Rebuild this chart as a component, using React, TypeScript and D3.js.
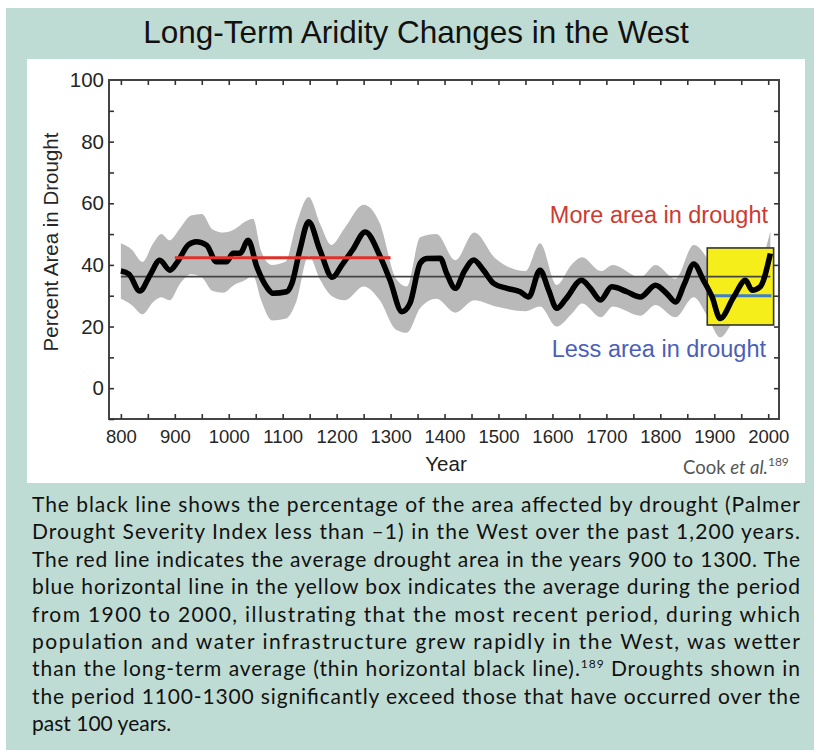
import React, { useEffect, useRef } from 'react';
import * as d3 from 'd3';

// black line: percent area in drought
const years = [800, 815, 835, 855, 872, 891, 905, 925, 940, 959, 977, 996, 1008, 1021, 1036, 1052, 1070, 1082, 1107, 1117, 1132, 1148, 1169, 1192, 1210, 1230, 1253, 1281, 1299, 1321, 1336, 1355, 1367, 1392, 1404, 1420, 1437, 1454, 1472, 1491, 1516, 1540, 1556, 1577, 1593, 1608, 1625, 1654, 1670, 1689, 1710, 1738, 1763, 1791, 1812, 1828, 1845, 1862, 1880, 1896, 1911, 1936, 1958, 1970, 1985, 2004];
const drought = [38, 37, 31.5, 37, 41.5, 38.3, 41, 46.5, 47.5, 46.4, 41, 41, 43.8, 43.8, 48, 39.4, 32.9, 30.8, 31.3, 34, 45, 54, 44.8, 36, 40, 45, 50.7, 42.6, 35, 24.8, 27.6, 40.6, 42.1, 42.2, 37.2, 32.4, 38, 41.6, 38.3, 34, 32.4, 31.3, 29.6, 38.3, 31.8, 25.9, 29, 35, 32.5, 28.6, 32.9, 31.3, 29.6, 33.4, 30.7, 28, 34, 40.3, 35, 29.6, 22.6, 29.6, 35, 31.8, 32.9, 43.7];

// grey uncertainty band
const bandYears = [800, 820, 840, 860, 875, 890, 910, 930, 950, 970, 990, 1010, 1030, 1045, 1060, 1080, 1105, 1125, 1148, 1170, 1190, 1215, 1250, 1280, 1310, 1330, 1355, 1385, 1420, 1455, 1495, 1550, 1577, 1608, 1635, 1655, 1690, 1712, 1763, 1791, 1828, 1862, 1887, 1911, 1936, 1960, 1985, 2004];
const bandUpper = [47, 45, 41, 47, 50, 48, 52, 56, 56.5, 51.5, 50.5, 51.5, 54, 55, 44.5, 40, 41, 53, 62, 53, 46.5, 52, 59.5, 53.5, 35.5, 33, 49, 50, 41.5, 50.5, 42, 38, 47, 33.5, 40, 42.5, 38, 40, 36, 40, 35.5, 46.5, 42, 32, 38, 42, 42, 51];
const bandLower = [29, 27, 24, 28, 29.5, 28.5, 34, 37, 36, 31.5, 31, 33.5, 35, 36.5, 28.5, 22, 22.5, 28, 43, 35, 30, 28.5, 33, 28.5, 19, 18, 26, 29, 24.5, 28.5, 26.5, 25, 26.5, 20, 24, 27.5, 23, 26.5, 23.5, 27, 23, 29.5, 23.5, 16.5, 22, 27, 26, 33];

const longTermMean = 36.2;
const longTermSpan = [800, 2004];
const medievalMean = 42.3;
const medievalSpan = [900, 1300];
const modernMean = 30;
const modernSpan = [1898, 2006];
const boxYears = [1887, 2010];
const boxValues = [20.5, 45.5];

const xTicks = [800, 900, 1000, 1100, 1200, 1300, 1400, 1500, 1600, 1700, 1800, 1900, 2000];
const xMinor = [850, 950, 1050, 1150, 1250, 1350, 1450, 1550, 1650, 1750, 1850, 1950];
const yTicks = [0, 20, 40, 60, 80, 100];
const yMinor = [-10, 10, 30, 50, 70, 90];

const captionLines = [
  'The black line shows the percentage of the area affected by drought (Palmer',
  'Drought Severity Index less than \u20131) in the West over the past 1,200 years.',
  'The red line indicates the average drought area in the years 900 to 1300. The',
  'blue horizontal line in the yellow box indicates the average during the period',
  'from 1900 to 2000, illustrating that the most recent period, during which',
  'population and water infrastructure grew rapidly in the West, was wetter',
  'than the long-term average (thin horizontal black line).|189| Droughts shown in',
  'the period 1100-1300 significantly exceed those that have occurred over the',
  'past 100 years.',
];

const W = 814;
const H = 750;
const plot = { left: 109, right: 779, top: 80, bottom: 419 };

export default function App() {
  const axisRef = useRef<SVGGElement>(null);

  const x = d3.scaleLinear().domain([778, 2020]).range([plot.left, plot.right]);
  const y = d3.scaleLinear().domain([-10, 100]).range([plot.bottom, plot.top]);

  const lineData = years.map((yr, i) => [yr, drought[i]] as [number, number]);
  const bandData = bandYears.map((yr, i) => ({ yr, hi: bandUpper[i], lo: bandLower[i] }));

  const line = d3
    .line<[number, number]>()
    .x(d => x(d[0]))
    .y(d => y(d[1]))
    .curve(d3.curveMonotoneX);

  const area = d3
    .area<{ yr: number; hi: number; lo: number }>()
    .x(d => x(d.yr))
    .y0(d => y(d.lo))
    .y1(d => y(d.hi))
    .curve(d3.curveMonotoneX);

  useEffect(() => {
    const g = d3.select(axisRef.current);
    g.selectAll('*').remove();
    const allX = [...xTicks, ...xMinor].sort((a, b) => a - b);
    const allY = [...yTicks, ...yMinor].sort((a, b) => a - b);

    const bottom = g
      .append('g')
      .attr('transform', `translate(0,${plot.bottom})`)
      .call(
        d3
          .axisBottom(x)
          .tickValues(allX)
          .tickSize(-5)
          .tickSizeOuter(0)
          .tickPadding(11)
          .tickFormat(d => (xTicks.includes(+d) ? String(d) : ''))
      );
    const top = g
      .append('g')
      .attr('transform', `translate(0,${plot.top})`)
      .call(d3.axisTop(x).tickValues(allX).tickSize(-5).tickSizeOuter(0).tickFormat(() => ''));
    const left = g
      .append('g')
      .attr('transform', `translate(${plot.left},0)`)
      .call(
        d3
          .axisLeft(y)
          .tickValues(allY.filter(v => v < 100))
          .tickSize(-5)
          .tickSizeOuter(0)
          .tickPadding(5)
          .tickFormat(d => (yTicks.includes(+d) ? String(d) : ''))
      );
    const right = g
      .append('g')
      .attr('transform', `translate(${plot.right},0)`)
      .call(d3.axisRight(y).tickValues(allY.filter(v => v < 100 && v > -10)).tickSize(-5).tickSizeOuter(0).tickFormat(() => ''));

    [bottom, top, left, right].forEach(a => {
      a.select('.domain').remove();
      a.selectAll('line').attr('stroke', '#333').attr('stroke-width', 1.6);
      a.selectAll('text')
        .attr('fill', '#262626')
        .style('font-family', '"Liberation Sans", Arial, sans-serif');
    });
    bottom.selectAll('text').style('font-size', '18.5px');
    left.selectAll('text').style('font-size', '20.5px');
    // "100" sits at the top corner, drawn separately
    g.append('text')
      .attr('x', plot.left - 5)
      .attr('y', y(100))
      .attr('dy', '0.32em')
      .attr('text-anchor', 'end')
      .attr('fill', '#262626')
      .style('font-family', '"Liberation Sans", Arial, sans-serif')
      .style('font-size', '20.5px')
      .text('100');
  }, []);

  const sans = '"Liberation Sans", Arial, sans-serif';
  const gill = 'Lato, "Open Sans", sans-serif';

  return (
    <svg width={W} height={H} style={{ position: 'absolute', left: 0, top: 0 }}>
      <rect x={6} y={8} width={808} height={742} fill="#bfdcd4" />
      <rect x={27} y={59} width={778} height={424} fill="#ffffff" />

      <text x={416} y={43} textAnchor="middle" fontFamily={sans} fontSize={31.5} fill="#111">
        Long-Term Aridity Changes in the West
      </text>

      <path d={area(bandData) ?? ''} fill="#b9b9b9" />
      <rect
        x={x(boxYears[0])}
        y={y(boxValues[1])}
        width={x(boxYears[1]) - x(boxYears[0])}
        height={y(boxValues[0]) - y(boxValues[1])}
        fill="#f6ee1b"
        stroke="#333"
        strokeWidth={1.6}
      />
      <line
        x1={x(longTermSpan[0])}
        x2={x(longTermSpan[1])}
        y1={y(longTermMean)}
        y2={y(longTermMean)}
        stroke="#444"
        strokeWidth={1.6}
      />
      <line
        x1={x(modernSpan[0])}
        x2={x(modernSpan[1])}
        y1={y(modernMean)}
        y2={y(modernMean)}
        stroke="#3f7fc8"
        strokeWidth={3}
      />
      <path d={line(lineData) ?? ''} fill="none" stroke="#000" strokeWidth={5.5} strokeLinejoin="round" />
      <line
        x1={x(medievalSpan[0])}
        x2={x(medievalSpan[1])}
        y1={y(medievalMean)}
        y2={y(medievalMean)}
        stroke="#e0302a"
        strokeWidth={3}
      />

      <text x={768} y={223} textAnchor="end" fontFamily={sans} fontSize={23.5} fill="#cc3b32">
        More area in drought
      </text>
      <text x={766} y={357} textAnchor="end" fontFamily={sans} fontSize={23.5} fill="#4b5fb8">
        Less area in drought
      </text>

      <rect
        x={plot.left}
        y={plot.top}
        width={plot.right - plot.left}
        height={plot.bottom - plot.top}
        fill="none"
        stroke="#444"
        strokeWidth={2}
      />
      <g ref={axisRef} />

      <text
        transform={`translate(58,242) rotate(-90)`}
        textAnchor="middle"
        fontFamily={sans}
        fontSize={20.5}
        fill="#262626"
      >
        Percent Area in Drought
      </text>
      <text x={446} y={471} textAnchor="middle" fontFamily={sans} fontSize={20.5} fill="#1e1e1e">
        Year
      </text>
      <text x={683} y={474} fontFamily={gill} fontSize={18.5} fill="#555">
        Cook <tspan fontStyle="italic">et al.</tspan>
        <tspan fontSize={12} dy={-8}>189</tspan>
      </text>

      {captionLines.map((ln, i) => {
        const parts = ln.split('|');
        const last = i === captionLines.length - 1;
        return (
          <text
            key={i}
            x={32}
            y={512 + i * 27.4}
            fontFamily={gill}
            fontSize={21}
            fill="#111"
            textLength={last ? undefined : 768}
            lengthAdjust="spacing"
          >
            {parts.length === 1 ? (
              ln
            ) : (
              <>
                {parts[0]}
                <tspan fontSize={12} dy={-8}>
                  {parts[1]}
                </tspan>
                <tspan dy={8}>{parts[2]}</tspan>
              </>
            )}
          </text>
        );
      })}
    </svg>
  );
}
